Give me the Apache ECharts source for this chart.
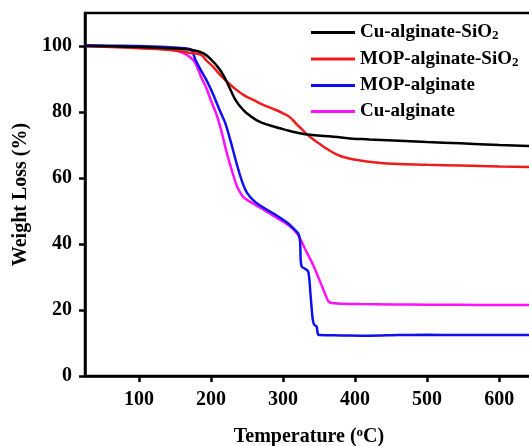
<!DOCTYPE html>
<html>
<head>
<meta charset="utf-8">
<script src="https://cdn.jsdelivr.net/npm/echarts@6/dist/echarts.min.js"></script>
<style>html,body{margin:0;padding:0;background:#fff;}#c{width:529px;height:446px;}</style>
</head>
<body>
<div id="c"></div>
<script>
const seriesNames = ['Cu-alginate-SiO2', 'MOP-alginate-SiO2', 'MOP-alginate', 'Cu-alginate'];
const yTicks = [0, 20, 40, 60, 80, 100];
const xTicks = [100, 200, 300, 400, 500, 600];

const cuAlginateSiO2 = [[25,100],[60,99.9],[100,99.7],[143,99.3],[165,99],[180,98.5],[190,97.7],[198,96.3],[208,94],[217,91.2],[226,87.2],[235,83.3],[245,80.6],[254,78.9],[265,77.3],[282,75.9],[300,74.8],[320,73.7],[340,73],[370,72.5],[393,72],[420,71.7],[453,71.4],[500,70.9],[546,70.5],[600,70.0],[647,69.7]];
const mopAlginateSiO2 = [[25,100],[60,99.7],[100,99.3],[143,98.8],[171,97.9],[185,97.4],[194,95.5],[203,93.7],[212,91.4],[222,89.2],[232,87.3],[245,85.2],[260,83.5],[273,82.1],[287,80.9],[300,79.6],[310,78.3],[318,76.5],[326,74.8],[333,73.3],[342,71.7],[351,70.3],[361,68.8],[375,67.1],[390,66],[407,65.3],[430,64.7],[453,64.3],[500,64],[546,63.8],[600,63.5],[647,63.3]];
const mopAlginate = [[25,100.2],[60,100.1],[100,100],[143,99.6],[165,99.3],[173,98.8],[178,96],[186,92.6],[194,89.5],[203,85.3],[212,80.5],[220,76.5],[228,70.5],[236,64],[243,59],[250,55.5],[260,53],[273,51],[290,48.8],[305,46.6],[315,44.6],[321,43.2],[323.5,41],[324.5,35],[326,33.1],[330,32.6],[335,31.6],[338,25],[341,17.5],[343,15.6],[346.5,15],[348,13],[350,12.4],[380,12.3],[420,12.2],[460,12.4],[500,12.5],[546,12.4],[600,12.4],[647,12.4]];
const cuAlginate = [[25,100],[60,99.8],[100,99.5],[143,98.9],[160,98],[171,96.6],[178,94.9],[186,90.7],[194,87],[201,82.8],[208,79],[214,74.5],[222,67.5],[230,61.5],[236,57.5],[245,54.2],[259,52.2],[275,50.1],[296,47.3],[310,45.3],[321,42.7],[330,38.7],[342,33.5],[352,28.3],[360,24],[364,22.4],[375,22],[407,21.8],[450,21.7],[500,21.6],[546,21.6],[600,21.5],[647,21.5]];

const seriesData = [cuAlginateSiO2, mopAlginateSiO2, mopAlginate, cuAlginate];
const colors = ['#000000', '#ee1c1c', '#1010ee', '#ff10ff'];

const FONT = 'Liberation Serif';
const chart = echarts.init(document.getElementById('c'), null, {renderer: 'canvas'});

const legendRich = {
  n: {fontFamily: FONT, fontWeight: 'bold', fontSize: 19, color: '#000', lineHeight: 20},
  s: {fontFamily: FONT, fontWeight: 'bold', fontSize: 13, color: '#000', lineHeight: 6, verticalAlign: 'bottom'}
};

const option = {
  animation: false,
  backgroundColor: '#fff',
  grid: {left: 85, top: 13, right: -4, bottom: 70, containLabel: false, outerBoundsMode: 'none',
         show: true, borderColor: '#000', borderWidth: 2.5, backgroundColor: 'transparent'},
  legend: {
    orient: 'vertical', left: 311, top: 23, padding: 0,
    itemWidth: 44, itemHeight: 3, itemGap: 7, icon: 'rect',
    data: seriesNames,
    formatter: function (name) {
      if (name.endsWith('SiO2')) return '{n|' + name.slice(0, -1) + '}{s|2}';
      return '{n|' + name + '}';
    },
    textStyle: {rich: legendRich, fontFamily: FONT, fontWeight: 'bold', fontSize: 19, color: '#000'}
  },
  xAxis: {
    type: 'value', min: 25, max: 647,
    axisLine: {show: true, lineStyle: {color: '#000', width: 2.5}},
    axisTick: {show: true, inside: false, length: 6, lineStyle: {color: '#000', width: 2.5}, customValues: xTicks},
    axisLabel: {customValues: xTicks, margin: 14, fontFamily: FONT, fontWeight: 'bold', fontSize: 20, color: '#000'},
    splitLine: {show: false},
    name: '{t|Temperature (}{u|o}{t|C)}',
    nameLocation: 'middle', nameGap: 50,
    nameTextStyle: {rich: {
      t: {fontFamily: FONT, fontWeight: 'bold', fontSize: 20, color: '#000', lineHeight: 22},
      u: {fontFamily: FONT, fontWeight: 'bold', fontSize: 13, color: '#000', lineHeight: 10, verticalAlign: 'top'}
    }}
  },
  yAxis: {
    type: 'value', min: 0, max: 110,
    axisLine: {show: true, lineStyle: {color: '#000', width: 2.5}},
    axisTick: {show: true, inside: false, length: 6, lineStyle: {color: '#000', width: 2.5}, customValues: yTicks},
    axisLabel: {customValues: yTicks, margin: 13, fontFamily: FONT, fontWeight: 'bold', fontSize: 20, color: '#000'},
    splitLine: {show: false},
    name: 'Weight Loss (%)',
    nameLocation: 'middle', nameGap: 49,
    nameTextStyle: {fontFamily: FONT, fontWeight: 'bold', fontSize: 20, color: '#000'}
  },
  series: seriesNames.map(function (n, i) {
    return {
      name: n, type: 'line', data: seriesData[i],
      showSymbol: false, symbol: 'none', smooth: i < 2 ? 0.5 : 0.3,
      lineStyle: {color: colors[i], width: 2.5}, itemStyle: {color: colors[i]},
      z: 4 - i
    };
  })
};
chart.setOption(option);
</script>
</body>
</html>
